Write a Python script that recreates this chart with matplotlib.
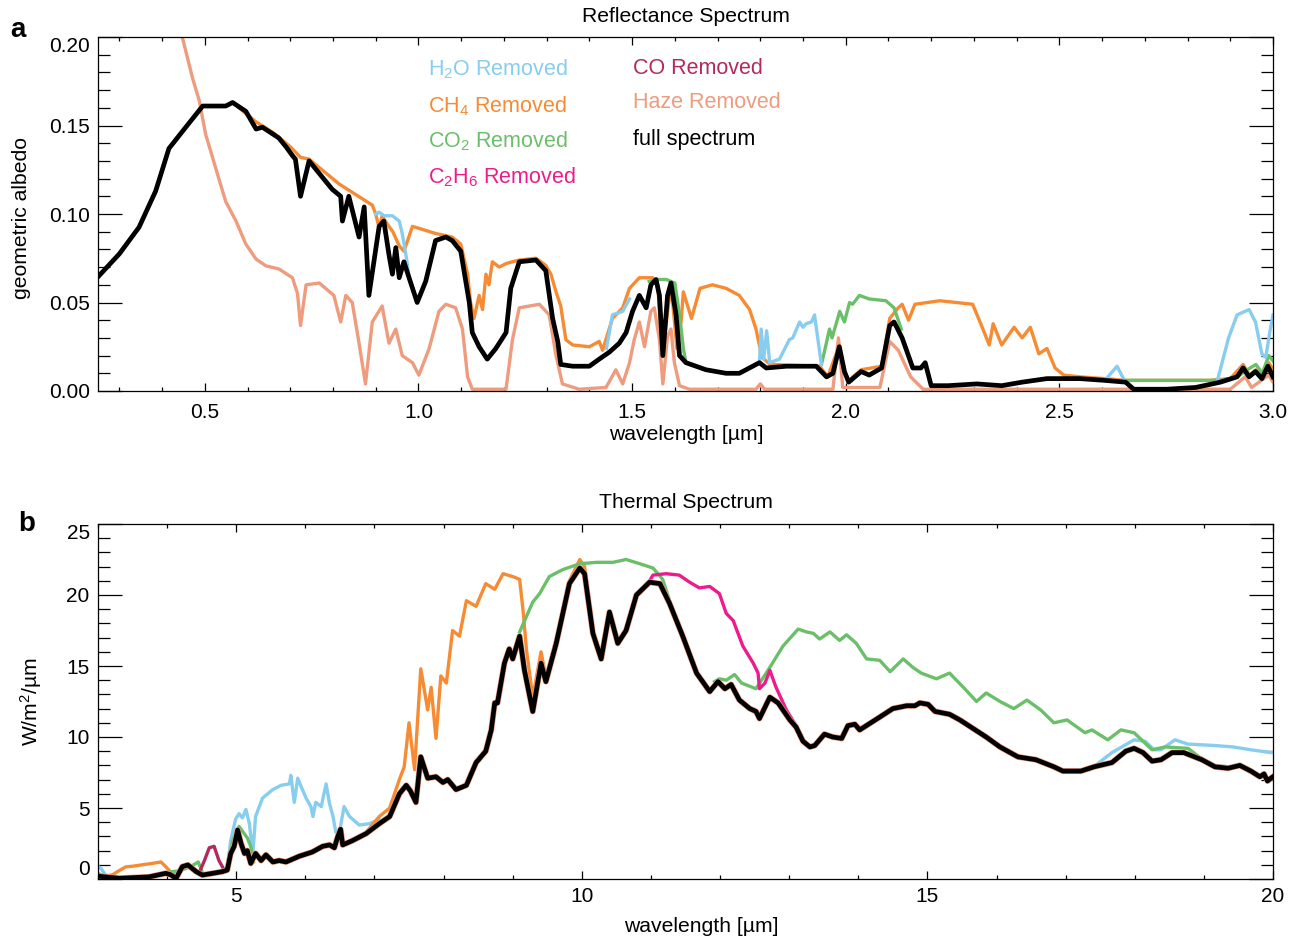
import numpy as np
import matplotlib
matplotlib.use('Agg')
import matplotlib.pyplot as plt
from matplotlib.ticker import MultipleLocator

plt.rcParams['font.family'] = ['Liberation Sans', 'DejaVu Sans']
plt.rcParams['mathtext.fontset'] = 'custom'
plt.rcParams['mathtext.rm'] = 'Liberation Sans'
plt.rcParams['mathtext.it'] = 'Liberation Sans:italic'

nan = np.nan

################################ reflectance spectrum (panel a)
wl_full_a = [0.25, 0.30, 0.346, 0.385, 0.416, 0.452, 0.495, 0.518, 0.549, 0.565, 0.596, 0.62, 0.635,
             0.673, 0.69, 0.705, 0.712, 0.724, 0.744, 0.798, 0.818, 0.822, 0.837, 0.861, 0.873, 0.884,
             0.908, 0.919, 0.931, 0.939, 0.947, 0.955, 0.966, 0.978, 0.997, 1.017, 1.040, 1.064, 1.079,
             1.099, 1.119, 1.126, 1.142, 1.161, 1.181, 1.205, 1.216, 1.236, 1.275, 1.298, 1.314, 1.326,
             1.333, 1.361, 1.400, 1.423, 1.447, 1.470, 1.486, 1.501, 1.517, 1.533, 1.544, 1.556, 1.564,
             1.572, 1.583, 1.591, 1.603, 1.611, 1.626, 1.673, 1.720, 1.751, 1.798, 1.814, 1.861, 1.931,
             1.955, 1.970, 1.985, 1.997, 2.007, 2.036, 2.055, 2.084, 2.103, 2.113, 2.132, 2.157, 2.176,
             2.186, 2.200, 2.239, 2.307, 2.365, 2.413, 2.471, 2.548, 2.606, 2.655, 2.674, 2.751, 2.819,
             2.877, 2.916, 2.930, 2.944, 2.959, 2.974, 2.988, 3.0]
alb_full = [0.0645, 0.0775, 0.0925, 0.113, 0.137, 0.148, 0.161, 0.161, 0.161, 0.163, 0.158, 0.148, 0.149,
            0.143, 0.138, 0.133, 0.131, 0.110, 0.130, 0.114, 0.110, 0.096, 0.110, 0.087, 0.104, 0.054,
            0.093, 0.096, 0.077, 0.066, 0.081, 0.064, 0.073, 0.064, 0.050, 0.062, 0.085, 0.087, 0.085,
            0.079, 0.050, 0.033, 0.025, 0.018, 0.024, 0.033, 0.058, 0.073, 0.074, 0.068, 0.041, 0.028,
            0.015, 0.014, 0.014, 0.018, 0.022, 0.027, 0.033, 0.045, 0.054, 0.047, 0.060, 0.063, 0.054,
            0.020, 0.054, 0.061, 0.043, 0.020, 0.016, 0.012, 0.010, 0.010, 0.016, 0.013, 0.014, 0.014,
            0.008, 0.010, 0.025, 0.011, 0.005, 0.011, 0.009, 0.013, 0.037, 0.039, 0.030, 0.013, 0.013,
            0.016, 0.003, 0.003, 0.004, 0.003, 0.005, 0.007, 0.007, 0.006, 0.005, 0.001, 0.001, 0.002,
            0.005, 0.008, 0.013, 0.008, 0.011, 0.007, 0.014, 0.008]

wl_ch4_a = [0.58, 0.62, 0.66, 0.70, 0.724, 0.744, 0.814, 0.892, 0.900, 0.908, 0.915, 0.925, 0.94, 0.955,
            0.966, 0.986, 1.00, 1.04, 1.079, 1.099, 1.115, 1.122, 1.130, 1.142, 1.150, 1.158, 1.165, 1.173,
            1.189, 1.205, 1.220, 1.236, 1.275, 1.298, 1.310, 1.322, 1.333, 1.345, 1.361, 1.400, 1.423,
            1.431, 1.454, 1.478, 1.494, 1.517, 1.548, 1.56, 1.571, 1.591, 1.605, 1.615, 1.620, 1.639,
            1.659, 1.688, 1.720, 1.751, 1.775, 1.790, 1.804, 1.823, 1.939, 1.958, 1.985, 1.997, 2.007,
            2.036, 2.084, 2.103, 2.113, 2.123, 2.132, 2.147, 2.162, 2.22, 2.297, 2.316, 2.336, 2.345,
            2.365, 2.394, 2.413, 2.432, 2.452, 2.471, 2.490, 2.510, 2.548, 2.606, 2.655, 2.70, 2.85, 2.90,
            2.93, 2.945, 2.96, 2.975, 2.99, 3.0]
alb_ch4 = [0.160, 0.152, 0.146, 0.138, 0.132, 0.131, 0.117, 0.105, 0.100, 0.092, 0.099, 0.095, 0.090,
           0.082, 0.079, 0.093, 0.092, 0.089, 0.087, 0.083, 0.066, 0.050, 0.041, 0.054, 0.046, 0.066,
           0.060, 0.073, 0.070, 0.072, 0.073, 0.074, 0.075, 0.071, 0.066, 0.056, 0.048, 0.029, 0.026,
           0.025, 0.028, 0.023, 0.041, 0.047, 0.058, 0.064, 0.064, 0.060, 0.021, 0.060, 0.024, 0.040,
           0.056, 0.041, 0.058, 0.060, 0.058, 0.054, 0.046, 0.035, 0.019, 0.015, 0.014, 0.008, 0.026,
           0.010, 0.006, 0.012, 0.014, 0.041, 0.044, 0.047, 0.049, 0.040, 0.049, 0.051, 0.049, 0.038,
           0.026, 0.038, 0.026, 0.036, 0.030, 0.036, 0.021, 0.024, 0.013, 0.009, 0.008, 0.007, 0.006,
           0.006, 0.006, 0.007, 0.015, 0.009, 0.012, 0.008, 0.016, 0.012]

wl_h2o_a = [0.90, 0.908, 0.92, 0.939, 0.955, 0.962, 0.972, 0.978, nan,
            1.44, 1.454, 1.478, 1.494, nan,
            1.798, 1.802, 1.808, 1.815, 1.822, 1.845, 1.868, 1.876, 1.892, 1.900, 1.907, 1.920, 1.927,
            1.935, 1.943, nan,
            2.61, 2.635, 2.65, nan,
            2.87, 2.896, 2.916, 2.944, 2.959, 2.974, 2.983, 2.993, 3.0]
alb_h2o = [0.100, 0.101, 0.099, 0.099, 0.096, 0.089, 0.075, 0.064, nan,
           0.024, 0.043, 0.045, 0.052, nan,
           0.016, 0.035, 0.018, 0.034, 0.016, 0.018, 0.029, 0.030, 0.039, 0.036, 0.038, 0.039, 0.043,
           0.029, 0.015, nan,
           0.007, 0.014, 0.007, nan,
           0.006, 0.030, 0.043, 0.046, 0.039, 0.021, 0.019, 0.034, 0.043]

wl_co2_a = [1.54, 1.561, 1.58, 1.600, 1.611, 1.620, 1.626, nan,
            1.943, 1.949, 1.962, 1.968, 1.986, 1.997, 2.009, 2.016, 2.032, 2.055, 2.094, 2.113, 2.123,
            2.13, nan,
            2.655, 2.70, 2.80, 2.877, 2.916, 2.94, 2.96, 2.975, 2.99, 3.0]
alb_co2 = [0.062, 0.063, 0.063, 0.061, 0.043, 0.024, 0.016, nan,
           0.015, 0.021, 0.035, 0.030, 0.045, 0.039, 0.050, 0.049, 0.054, 0.052, 0.051, 0.047, 0.040,
           0.035, nan,
           0.006, 0.006, 0.006, 0.006, 0.008, 0.012, 0.015, 0.010, 0.020, 0.017]

wl_haze_a = [0.44, 0.471, 0.487, 0.502, 0.518, 0.534, 0.549, 0.573, 0.596, 0.62, 0.643, 0.673, 0.705,
             0.717, 0.724, 0.737, 0.768, 0.802, 0.818, 0.830, 0.845, 0.861, 0.876, 0.892, 0.915, 0.931,
             0.947, 0.962, 0.986, 1.001, 1.025, 1.048, 1.064, 1.087, 1.103, 1.115, 1.126, 1.205, 1.220,
             1.236, 1.283, 1.306, 1.322, 1.337, 1.376, 1.439, 1.462, 1.478, 1.494, 1.505, 1.517, 1.529,
             1.544, 1.552, 1.564, 1.572, 1.583, 1.591, 1.599, 1.611, 1.634, 1.79, 1.80, 1.81, 1.97, 1.983,
             1.993, 2.08, 2.103, 2.123, 2.152, 2.181, 2.90, 2.935, 2.95, 2.99, 3.0]
alb_haze = [0.207, 0.177, 0.164, 0.145, 0.132, 0.119, 0.107, 0.096, 0.083, 0.0745, 0.0707, 0.069, 0.064,
            0.055, 0.037, 0.060, 0.061, 0.054, 0.039, 0.054, 0.050, 0.027, 0.004, 0.039, 0.048, 0.027,
            0.035, 0.020, 0.016, 0.009, 0.024, 0.045, 0.049, 0.047, 0.035, 0.008, 0.001, 0.001, 0.029,
            0.047, 0.049, 0.043, 0.020, 0.004, 0.001, 0.002, 0.012, 0.004, 0.016, 0.029, 0.039, 0.025,
            0.045, 0.047, 0.029, 0.004, 0.031, 0.035, 0.016, 0.003, 0.001, 0.001, 0.004, 0.001, 0.001,
            0.030, 0.002, 0.002, 0.028, 0.023, 0.008, 0.001, 0.001, 0.008, 0.002, 0.009, 0.005]

################################ thermal spectrum (panel b)
wl_full_b = [3.00, 3.31, 3.74, 3.98, 4.05, 4.13, 4.22, 4.30, 4.42, 4.51, 4.66, 4.80, 4.87, 4.92, 4.97,
             5.02, 5.07, 5.12, 5.16, 5.21, 5.28, 5.36, 5.43, 5.53, 5.62, 5.72, 5.91, 6.10, 6.25, 6.35,
             6.42, 6.47, 6.51, 6.54, 6.68, 6.88, 7.07, 7.22, 7.36, 7.46, 7.52, 7.60, 7.67, 7.77, 7.89,
             7.99, 8.06, 8.18, 8.33, 8.47, 8.61, 8.69, 8.74, 8.78, 8.88, 8.95, 9.00, 9.10, 9.17, 9.29,
             9.41, 9.48, 9.63, 9.82, 9.97, 10.04, 10.16, 10.28, 10.40, 10.52, 10.64, 10.79, 10.98, 11.13,
             11.27, 11.46, 11.66, 11.85, 11.97, 12.07, 12.16, 12.28, 12.43, 12.52, 12.57, 12.72, 12.84,
             13.01, 13.10, 13.20, 13.30, 13.37, 13.51, 13.63, 13.76, 13.85, 13.95, 14.02, 14.31, 14.50,
             14.70, 14.82, 14.89, 15.01, 15.11, 15.32, 15.47, 15.66, 15.85, 16.05, 16.31, 16.57, 16.83,
             16.96, 17.22, 17.41, 17.67, 17.87, 17.99, 18.12, 18.25, 18.38, 18.54, 18.71, 18.97, 19.16,
             19.35, 19.52, 19.68, 19.81, 19.87, 19.92, 19.97, 20.0]
flux_full = [0.2, 0.05, 0.15, 0.4, 0.3, 0.05, 0.87, 0.99, 0.52, 0.28, 0.4, 0.52, 0.63, 1.8, 2.3,
             3.45, 2.5, 1.8, 2.0, 1.1, 1.8, 1.3, 1.7, 1.2, 1.3, 1.2, 1.6, 1.9, 2.3, 2.4,
             2.2, 3.0, 3.5, 2.4, 2.7, 3.2, 3.9, 4.4, 6.0, 6.6, 6.2, 5.4, 8.6, 7.1, 7.2,
             6.8, 7.0, 6.3, 6.6, 8.2, 9.0, 10.5, 12.4, 12.4, 15.2, 16.2, 15.5, 17.1, 14.7, 11.8,
             15.2, 13.9, 16.6, 20.8, 21.9, 21.5, 17.3, 15.5, 18.8, 16.6, 17.5, 20.0, 20.9, 20.8,
             19.4, 17.1, 14.5, 13.2, 13.9, 13.4, 13.7, 12.6, 12.0, 11.8, 11.3, 12.8, 12.4,
             11.2, 10.7, 9.7, 9.3, 9.4, 10.2, 10.0, 9.9, 10.8, 10.9, 10.5, 11.4, 12.0,
             12.2, 12.2, 12.4, 12.3, 11.8, 11.6, 11.2, 10.6, 10.0, 9.3, 8.6, 8.4, 7.9,
             7.6, 7.6, 7.9, 8.2, 9.0, 9.2, 8.9, 8.3, 8.4, 8.9, 8.9, 8.4, 7.9,
             7.8, 8.0, 7.6, 7.2, 7.4, 6.9, 7.1, 7.2]

wl_ch4_b = [3.0, 3.1, 3.21, 3.31, 3.40, 3.50, 3.64, 3.79, 3.91, 3.98, 4.05, 4.13, nan,
            6.88, 7.07, 7.22, 7.36, 7.43, 7.50, 7.58, 7.67, 7.77, 7.82, 7.89, 7.96, 8.04, 8.13, 8.23,
            8.33, 8.47, 8.61, 8.74, 8.86, 9.00, 9.10, 9.15, 9.20, 9.29, 9.41, 9.48, 9.63, 9.82, 9.97,
            10.04, 10.16]
flux_ch4 = [0.4, 0.2, 0.3, 0.6, 0.85, 0.9, 1.0, 1.1, 1.2, 0.87, 0.5, 0.2, nan,
            3.3, 4.4, 5.0, 7.0, 7.9, 11.0, 7.7, 14.8, 11.9, 13.5, 9.9, 14.3, 13.8, 17.5, 17.1,
            19.6, 19.2, 20.8, 20.4, 21.5, 21.3, 21.1, 18.9, 16.1, 12.8, 16.0, 14.2, 16.9, 21.0, 22.5,
            22.0, 17.5]

wl_h2o_b = [3.0, 3.05, 3.09, 3.15, nan,
            4.87, 4.92, 4.99, 5.04, 5.09, 5.14, 5.19, 5.24, 5.28, 5.38, 5.53, 5.65, 5.77, 5.79, 5.84,
            5.89, 5.94, 6.01, 6.08, 6.11, 6.15, 6.23, 6.30, 6.35, 6.40, 6.44, 6.49, 6.56, 6.64, 6.78,
            6.93, 7.07, nan,
            17.22, 17.35, 17.67, 17.99, 18.15, 18.28, 18.38, 18.58, 18.77, 19.16, 19.42, 19.68, 19.97,
            20.0]
flux_h2o = [0.9, 0.7, 0.4, 0.1, nan,
            0.7, 2.7, 4.2, 4.6, 4.3, 4.9, 3.9, 1.8, 4.4, 5.7, 6.3, 6.6, 6.7, 7.3, 5.4,
            7.1, 6.5, 5.7, 5.1, 4.4, 5.4, 5.1, 6.7, 5.3, 4.4, 3.3, 3.2, 5.1, 4.4, 3.8,
            3.9, 4.2, nan,
            7.6, 7.7, 8.9, 9.8, 9.7, 9.1, 9.1, 9.8, 9.5, 9.4, 9.3, 9.1, 8.9,
            8.9]

wl_co2_b = [3.98, 4.2, 4.35, 4.45, 4.5, nan,
            4.87, 4.95, 5.04, 5.16, 5.21, 5.25, nan,
            9.10, 9.20, 9.29, 9.39, 9.53, 9.73, 9.97, 10.21, 10.45, 10.64, 10.84, 11.03, 11.17, 11.27,
            nan,
            11.92, 11.99, 12.09, 12.21, 12.31, 12.52, 12.60, 12.72, 12.91, 13.13, 13.25, 13.35, 13.44,
            13.59, 13.73, 13.83, 13.97, 14.12, 14.31, 14.46, 14.65, 14.79, 14.91, 15.13, 15.32, 15.52,
            15.71, 15.85, 15.95, 16.05, 16.25, 16.44, 16.64, 16.83, 17.02, 17.28, 17.38, 17.61, 17.80,
            17.99, 18.25, 18.44, 18.77, 18.93, 19.16, 19.35]
flux_co2 = [0.45, 0.6, 0.9, 1.2, 0.6, nan,
            0.8, 2.7, 3.7, 2.9, 2.3, 1.2, nan,
            17.4, 18.5, 19.5, 20.1, 21.3, 21.8, 22.2, 22.3, 22.3, 22.5, 22.2, 21.9, 21.1, 19.6,
            nan,
            13.9, 14.1, 14.0, 14.4, 13.8, 13.4, 14.0, 14.9, 16.4, 17.6, 17.4, 17.3, 16.9,
            17.4, 16.8, 17.2, 16.6, 15.5, 15.4, 14.6, 15.5, 14.9, 14.5, 14.1, 14.5, 13.5,
            12.5, 13.1, 12.8, 12.5, 12.0, 12.6, 11.9, 11.0, 11.2, 10.3, 10.5, 9.8, 10.5,
            10.3, 9.1, 9.3, 9.2, 8.6, 8.0, 7.9]

wl_c2h6_b = [10.98, 11.03, 11.22, 11.41, 11.56, 11.70, 11.85, 11.99, 12.09, 12.19, 12.33, 12.48, 12.55,
             12.57, 12.65, 12.72, 12.81, 12.96, 13.10]
flux_c2h6 = [21.0, 21.4, 21.5, 21.4, 20.9, 20.5, 20.6, 20.1, 18.7, 18.2, 16.4, 15.2, 14.5,
             13.4, 13.8, 14.7, 13.5, 11.9, 10.8]

wl_co_b = [4.42, 4.46, 4.54, 4.61, 4.68, 4.75, 4.83, 4.87]
flux_co = [0.5, 0.4, 1.3, 2.2, 2.3, 1.3, 0.6, 0.63]

c_h2o = '#86cdef'
c_ch4 = '#f68b33'
c_co2 = '#6abf69'
c_c2h6 = '#ec1c8c'
c_co = '#b22a5c'
c_haze = '#ee9b7e'

W, H = 1299, 941
fig = plt.figure(figsize=(W / 100, H / 100), dpi=100)
ax1 = fig.add_axes([98 / W, 1 - 391 / H, 1175 / W, 354 / H])
ax2 = fig.add_axes([98 / W, 1 - 879 / H, 1175 / W, 355 / H])

lw = 2.4
lw_full = 3.4
ax1.plot(wl_haze_a, alb_haze, color=c_haze, lw=lw)
ax1.plot(wl_ch4_a, alb_ch4, color=c_ch4, lw=lw)
ax1.plot(wl_co2_a, alb_co2, color=c_co2, lw=lw)
ax1.plot(wl_h2o_a, alb_h2o, color=c_h2o, lw=lw)
ax1.plot(wl_full_a, alb_full, color='black', lw=lw_full)

ax2.plot(wl_h2o_b, flux_h2o, color=c_h2o, lw=lw)
ax2.plot(wl_ch4_b, flux_ch4, color=c_ch4, lw=lw)
ax2.plot(wl_co2_b, flux_co2, color=c_co2, lw=lw)
ax2.plot(wl_c2h6_b, flux_c2h6, color=c_c2h6, lw=lw)
ax2.plot(wl_co_b, flux_co, color=c_co, lw=lw)
# haze-removed thermal spectrum sits on the full spectrum
ax2.plot(wl_full_b, flux_full, color=c_haze, lw=4.3)
ax2.plot(wl_full_b, flux_full, color='black', lw=lw_full)

ax1.set_xlim(0.25, 3.0)
ax1.set_ylim(0, 0.20)
ax1.set_xticks([0.5, 1.0, 1.5, 2.0, 2.5, 3.0])
ax1.set_xticklabels(['0.5', '1.0', '1.5', '2.0', '2.5', '3.0'])
ax1.xaxis.set_minor_locator(MultipleLocator(0.1))
ax1.set_yticks([0, 0.05, 0.10, 0.15, 0.20])
ax1.set_yticklabels(['0.00', '0.05', '0.10', '0.15', '0.20'])
ax1.yaxis.set_minor_locator(MultipleLocator(0.01))

ax2.set_xlim(3, 20)
ax2.set_ylim(0, 25)
ax2.set_xticks([5, 10, 15, 20])
ax2.xaxis.set_minor_locator(MultipleLocator(1))
ax2.set_yticks([0, 5, 10, 15, 20, 25])
ax2.yaxis.set_minor_locator(MultipleLocator(1))

for ax in (ax1, ax2):
    for s in ax.spines.values():
        s.set_linewidth(0.9)
    ax.tick_params(axis='both', which='both', direction='in', top=True, right=True,
                   labelsize=15, width=0.9, pad=6)
    ax.tick_params(axis='y', which='major', length=17)
    ax.tick_params(axis='y', which='minor', length=8.5)
    ax.tick_params(axis='x', which='major', length=5.5)
    ax.tick_params(axis='x', which='minor', length=3)
ax1.tick_params(axis='x', which='both', pad=9)

ax1.yaxis.get_major_ticks()[-1].label1.set_va('top')
ax2.yaxis.get_major_ticks()[-1].label1.set_va('top')
ax2.yaxis.get_major_ticks()[0].label1.set_va('bottom')

# legend as coloured text
leg_left = [('H$_2$O Removed', c_h2o, 69), ('CH$_4$ Removed', c_ch4, 106),
            ('CO$_2$ Removed', c_co2, 141), ('C$_2$H$_6$ Removed', c_c2h6, 177)]
leg_right = [('CO Removed', c_co, 68), ('Haze Removed', c_haze, 103), ('full spectrum', 'black', 140)]
for txt, col, yp in leg_left:
    fig.text(428 / W, 1 - yp / H, txt, color=col, fontsize=15.5, ha='left', va='center')
for txt, col, yp in leg_right:
    fig.text(633 / W, 1 - yp / H, txt, color=col, fontsize=15.5, ha='left', va='center')

fs = 15.2
fig.text(686 / W, 1 - 16 / H, 'Reflectance Spectrum', fontsize=fs, ha='center', va='center')
fig.text(686 / W, 1 - 503 / H, 'Thermal Spectrum', fontsize=fs, ha='center', va='center')
fig.text(686 / W, 1 - 435 / H, 'wavelength [\u00b5m]', fontsize=fs, ha='center', va='center')
fig.text(701 / W, 1 - 927 / H, 'wavelength [\u00b5m]', fontsize=fs, ha='center', va='center')
fig.text(22 / W, 1 - 218 / H, 'geometric albedo', fontsize=fs, rotation=90, ha='center', va='center')
fig.text(31 / W, 1 - 702 / H, 'W/m$^2$/\u00b5m', fontsize=fs, rotation=90, ha='center', va='center')
fig.text(18 / W, 1 - 30 / H, 'a', fontsize=20, fontweight='bold', ha='center', va='center')
fig.text(27 / W, 1 - 524 / H, 'b', fontsize=20, fontweight='bold', ha='center', va='center')

fig.savefig('out.png', dpi=100)
